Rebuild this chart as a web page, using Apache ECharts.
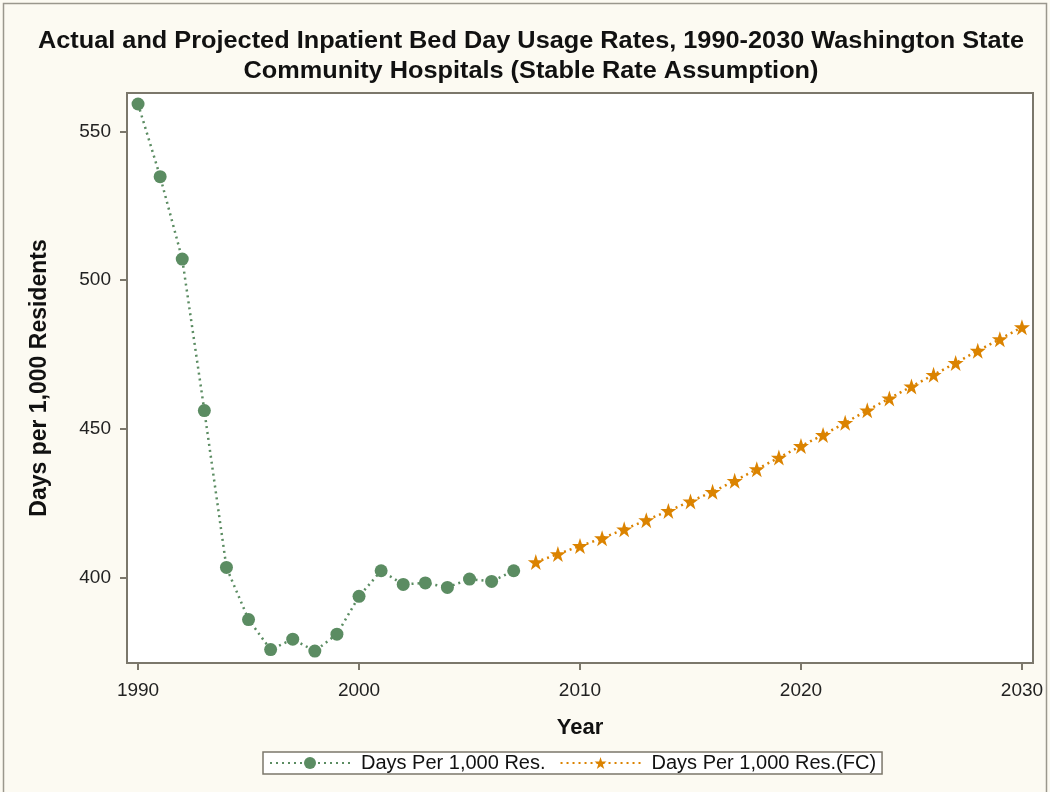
<!DOCTYPE html>
<html>
<head>
<meta charset="utf-8">
<script src="https://cdn.jsdelivr.net/npm/echarts@6/dist/echarts.min.js"></script>
<style>
  html, body { margin: 0; padding: 0; background: #fcfaf2; }
  #chart { width: 1050px; height: 792px; }
</style>
</head>
<body>
<div id="chart"></div>
<script>
// actual rates (days per 1,000 residents)
var actualYears = [1990, 1991, 1992, 1993, 1994, 1995, 1996, 1997, 1998, 1999,
                   2000, 2001, 2002, 2003, 2004, 2005, 2006, 2007];
var actualValues = [559.2, 534.8, 507.1, 456.2, 403.5, 386.0, 375.9, 379.4, 375.4, 381.1,
                    393.8, 402.4, 397.8, 398.3, 396.8, 399.6, 398.8, 402.4];

// projected rates (stable rate assumption)
var fcYears = [2008, 2009, 2010, 2011, 2012, 2013, 2014, 2015, 2016, 2017, 2018, 2019,
               2020, 2021, 2022, 2023, 2024, 2025, 2026, 2027, 2028, 2029, 2030];
var fcValues = [405.3, 408.0, 410.7, 413.3, 416.3, 419.4, 422.5, 425.7, 428.9, 432.6, 436.5, 440.4,
                444.3, 448.0, 452.1, 456.3, 460.3, 464.3, 468.2, 472.2, 476.3, 480.2, 484.2];

var xTicks = [1990, 2000, 2010, 2020, 2030];
var yTicks = [400, 450, 500, 550];

var green = '#5b8c62', orange = '#db8300', frame = '#7b776b';
var font = 'Liberation Sans, Arial, sans-serif';

function pairs(xs, ys) {
    var out = [];
    for (var i = 0; i < xs.length; i++) out.push([xs[i], ys[i]]);
    return out;
}

var chart = echarts.init(document.getElementById('chart'));
chart.setOption({
    backgroundColor: '#fcfaf2',
    animation: false,
    graphic: [{
        type: 'rect', silent: true,
        shape: { x: 3.5, y: 3.5, width: 1043, height: 800 },
        style: { fill: 'none', stroke: '#9a978d', lineWidth: 1.5 }
    }, {
        // title, slightly widened like the original
        type: 'text', silent: true,
        x: 531, y: 42, scaleX: 1.1,
        style: {
            text: 'Actual and Projected Inpatient Bed Day Usage Rates, 1990-2030 Washington State',
            align: 'center', verticalAlign: 'middle',
            font: 'bold 23px ' + font, fill: '#111'
        }
    }, {
        type: 'text', silent: true,
        x: 531, y: 72, scaleX: 1.1,
        style: {
            text: 'Community Hospitals (Stable Rate Assumption)',
            align: 'center', verticalAlign: 'middle',
            font: 'bold 23px ' + font, fill: '#111'
        }
    }],
    legend: {
        left: 263, top: 752,
        padding: [1, 6, 1, 6],
        itemGap: 14, itemWidth: 80, itemHeight: 15,
        borderColor: frame, borderWidth: 1.5,
        backgroundColor: '#ffffff',
        textStyle: { fontFamily: font, fontSize: 20, color: '#111', padding: [0, 0, 0, 6] },
        data: ['Days Per 1,000 Res.', 'Days Per 1,000 Res.(FC)']
    },
    grid: {
        left: 127, right: 17, top: 93, bottom: 129,
        show: true, backgroundColor: '#ffffff', borderColor: frame, borderWidth: 2
    },
    xAxis: {
        type: 'value', min: 1989.5, max: 2030.5,
        name: 'Year', nameLocation: 'middle', nameGap: 54,
        nameTextStyle: { fontFamily: font, fontSize: 22, fontWeight: 'bold', color: '#111' },
        axisLine: { lineStyle: { color: frame, width: 2 } },
        axisTick: { show: true, length: 7, customValues: xTicks, lineStyle: { color: frame, width: 2 } },
        axisLabel: {
            customValues: xTicks, margin: 18, fontFamily: font, fontSize: 19, color: '#222',
            formatter: function (v) { return String(v); }
        },
        splitLine: { show: false }
    },
    yAxis: {
        type: 'value', min: 371.4, max: 562.9,
        name: 'Days per 1,000 Residents', nameLocation: 'middle', nameGap: 76,
        nameTextStyle: { fontFamily: font, fontSize: 23, fontWeight: 'bold', color: '#111' },
        axisLine: { show: true, lineStyle: { color: frame, width: 2 } },
        axisTick: { show: true, length: 7, customValues: yTicks, lineStyle: { color: frame, width: 2 } },
        axisLabel: { customValues: yTicks, margin: 16, fontFamily: font, fontSize: 19, color: '#222' },
        splitLine: { show: false }
    },
    series: [{
        name: 'Days Per 1,000 Res.',
        type: 'line',
        data: pairs(actualYears, actualValues),
        symbol: 'circle', symbolSize: 13,
        itemStyle: { color: green },
        lineStyle: { color: green, width: 2.5, type: [2, 4] }
    }, {
        name: 'Days Per 1,000 Res.(FC)',
        type: 'line',
        data: pairs(fcYears, fcValues),
        symbol: 'path://M50,0 L61.8,35.1 L98.9,35.1 L69,57 L80.3,92.3 L50,70.5 L19.7,92.3 L31,57 L1.1,35.1 L38.2,35.1 Z',
        symbolSize: 16,
        itemStyle: { color: orange },
        lineStyle: { color: orange, width: 2.5, type: [2, 4] }
    }]
});
</script>
</body>
</html>
